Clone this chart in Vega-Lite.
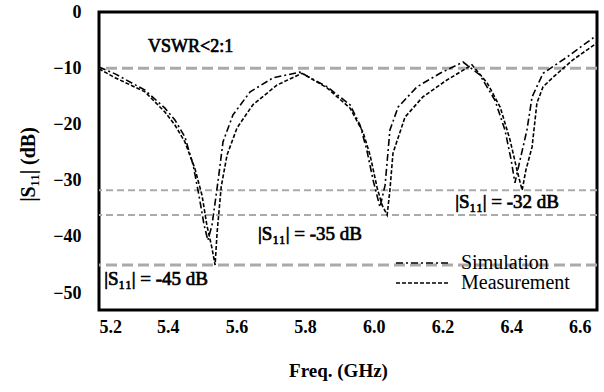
{
  "$schema": "https://vega.github.io/schema/vega-lite/v6.json",
  "width": 498,
  "height": 298,
  "autosize": {"type": "none"},
  "padding": {"left": 99, "top": 12, "right": 7, "bottom": 82},
  "background": "white",
  "config": {
    "font": "Liberation Serif",
    "view": {"stroke": "black", "strokeWidth": 3},
    "axis": {"grid": false, "ticks": false, "domain": false, "labelFont": "Liberation Serif", "labelFontWeight": "bold", "labelColor": "black", "titleFont": "Liberation Serif", "titleFontWeight": "bold", "titleColor": "black"}
  },
  "datasets": {
    "curves": [
      {"series": "Measurement", "f": 5.200, "db": -10.1},
      {"series": "Measurement", "f": 5.247, "db": -11.7},
      {"series": "Measurement", "f": 5.334, "db": -14.2},
      {"series": "Measurement", "f": 5.392, "db": -17.8},
      {"series": "Measurement", "f": 5.421, "db": -20.1},
      {"series": "Measurement", "f": 5.450, "db": -23.1},
      {"series": "Measurement", "f": 5.479, "db": -27.8},
      {"series": "Measurement", "f": 5.500, "db": -32.6},
      {"series": "Measurement", "f": 5.514, "db": -37.9},
      {"series": "Measurement", "f": 5.529, "db": -42.0},
      {"series": "Measurement", "f": 5.538, "db": -45.0},
      {"series": "Measurement", "f": 5.544, "db": -39.1},
      {"series": "Measurement", "f": 5.556, "db": -31.0},
      {"series": "Measurement", "f": 5.573, "db": -25.4},
      {"series": "Measurement", "f": 5.602, "db": -20.6},
      {"series": "Measurement", "f": 5.648, "db": -16.5},
      {"series": "Measurement", "f": 5.718, "db": -13.0},
      {"series": "Measurement", "f": 5.791, "db": -10.9},
      {"series": "Measurement", "f": 5.864, "db": -13.5},
      {"series": "Measurement", "f": 5.931, "db": -17.1},
      {"series": "Measurement", "f": 5.969, "db": -21.4},
      {"series": "Measurement", "f": 5.989, "db": -25.4},
      {"series": "Measurement", "f": 6.010, "db": -31.3},
      {"series": "Measurement", "f": 6.024, "db": -34.3},
      {"series": "Measurement", "f": 6.039, "db": -36.1},
      {"series": "Measurement", "f": 6.047, "db": -31.7},
      {"series": "Measurement", "f": 6.056, "db": -25.1},
      {"series": "Measurement", "f": 6.091, "db": -18.7},
      {"series": "Measurement", "f": 6.143, "db": -15.1},
      {"series": "Measurement", "f": 6.213, "db": -12.1},
      {"series": "Measurement", "f": 6.286, "db": -9.4},
      {"series": "Measurement", "f": 6.330, "db": -12.6},
      {"series": "Measurement", "f": 6.368, "db": -16.9},
      {"series": "Measurement", "f": 6.397, "db": -22.8},
      {"series": "Measurement", "f": 6.417, "db": -28.1},
      {"series": "Measurement", "f": 6.432, "db": -31.7},
      {"series": "Measurement", "f": 6.443, "db": -28.1},
      {"series": "Measurement", "f": 6.461, "db": -24.0},
      {"series": "Measurement", "f": 6.475, "db": -16.2},
      {"series": "Measurement", "f": 6.493, "db": -13.3},
      {"series": "Measurement", "f": 6.522, "db": -11.6},
      {"series": "Measurement", "f": 6.580, "db": -8.5},
      {"series": "Measurement", "f": 6.650, "db": -5.5},
      {"series": "Simulation", "f": 5.200, "db": -9.8},
      {"series": "Simulation", "f": 5.247, "db": -11.0},
      {"series": "Simulation", "f": 5.334, "db": -13.9},
      {"series": "Simulation", "f": 5.392, "db": -17.1},
      {"series": "Simulation", "f": 5.421, "db": -19.2},
      {"series": "Simulation", "f": 5.450, "db": -22.2},
      {"series": "Simulation", "f": 5.474, "db": -27.2},
      {"series": "Simulation", "f": 5.491, "db": -32.6},
      {"series": "Simulation", "f": 5.506, "db": -37.9},
      {"series": "Simulation", "f": 5.517, "db": -40.6},
      {"series": "Simulation", "f": 5.529, "db": -37.9},
      {"series": "Simulation", "f": 5.547, "db": -29.9},
      {"series": "Simulation", "f": 5.561, "db": -23.1},
      {"series": "Simulation", "f": 5.590, "db": -18.3},
      {"series": "Simulation", "f": 5.640, "db": -14.2},
      {"series": "Simulation", "f": 5.707, "db": -11.7},
      {"series": "Simulation", "f": 5.785, "db": -10.7},
      {"series": "Simulation", "f": 5.864, "db": -13.3},
      {"series": "Simulation", "f": 5.931, "db": -16.5},
      {"series": "Simulation", "f": 5.960, "db": -20.1},
      {"series": "Simulation", "f": 5.980, "db": -24.6},
      {"series": "Simulation", "f": 5.998, "db": -29.9},
      {"series": "Simulation", "f": 6.018, "db": -34.7},
      {"series": "Simulation", "f": 6.033, "db": -30.8},
      {"series": "Simulation", "f": 6.047, "db": -21.0},
      {"series": "Simulation", "f": 6.071, "db": -16.9},
      {"series": "Simulation", "f": 6.126, "db": -13.3},
      {"series": "Simulation", "f": 6.193, "db": -10.9},
      {"series": "Simulation", "f": 6.260, "db": -8.9},
      {"series": "Simulation", "f": 6.309, "db": -11.2},
      {"series": "Simulation", "f": 6.353, "db": -15.7},
      {"series": "Simulation", "f": 6.382, "db": -21.0},
      {"series": "Simulation", "f": 6.400, "db": -26.3},
      {"series": "Simulation", "f": 6.411, "db": -30.4},
      {"series": "Simulation", "f": 6.426, "db": -26.3},
      {"series": "Simulation", "f": 6.446, "db": -21.0},
      {"series": "Simulation", "f": 6.461, "db": -15.1},
      {"series": "Simulation", "f": 6.493, "db": -10.9},
      {"series": "Simulation", "f": 6.563, "db": -8.0},
      {"series": "Simulation", "f": 6.650, "db": -4.1}
    ]
  },
  "layer": [
    {
      "data": {"values": [{"db": -10}, {"db": -45}]},
      "mark": {"type": "rule", "color": "#aaaaaa", "strokeWidth": 3, "strokeDash": [11, 5]},
      "encoding": {"y": {"field": "db", "type": "quantitative", "scale": {"domain": [-53, 0]}}}
    },
    {
      "data": {"values": [{"db": -31.7}, {"db": -36.1}]},
      "mark": {"type": "rule", "color": "#aaaaaa", "strokeWidth": 2, "strokeDash": [7, 4]},
      "encoding": {"y": {"field": "db", "type": "quantitative"}}
    },
    {
      "data": {"name": "curves"},
      "mark": {"type": "line", "color": "black", "strokeWidth": 1.6, "clip": true},
      "encoding": {
        "x": {"field": "f", "type": "quantitative", "scale": {"domain": [5.2, 6.65], "nice": false, "zero": false},
          "axis": {"values": [5.2, 5.4, 5.6, 5.8, 6.0, 6.2, 6.4, 6.6], "format": ".1f", "labelFontSize": 18, "labelPadding": 8, "labelBaseline": "top", "title": "Freq. (GHz)", "titleFontSize": 19, "titleX": 239, "titleY": 60, "titleBaseline": "middle", "titleAlign": "center"}},
        "y": {"field": "db", "type": "quantitative", "scale": {"domain": [-53, 0], "nice": false},
          "axis": {"values": [0, -10, -20, -30, -40, -50], "labelFontSize": 18, "labelPadding": 18, "title": "|S₁₁| (dB)", "titleFontSize": 20, "titleX": -71, "titleY": 152, "titleAngle": -90, "titleAlign": "center", "titleBaseline": "middle"}},
        "strokeDash": {"field": "series", "type": "nominal",
          "scale": {"domain": ["Simulation", "Measurement"], "range": [[7, 3, 2, 3], [4, 2]]},
          "legend": {"title": null, "orient": "none", "legendX": 296, "legendY": 241, "symbolType": "M-1,0H5", "symbolSize": 324, "symbolStrokeWidth": 1.6, "symbolStrokeColor": "black", "symbolFillColor": "transparent", "labelFont": "Liberation Serif", "labelFontSize": 20, "labelColor": "black", "labelOffset": 46, "rowPadding": -3}}
      }
    },
    {
      "data": {"values": [{"f": 5.343, "db": -6.2, "label": "VSWR<2:1"}]},
      "mark": {"type": "text", "align": "left", "baseline": "middle", "fontSize": 18, "fontWeight": "normal", "stroke": "black", "strokeWidth": 0.7, "font": "Liberation Serif", "color": "black"},
      "encoding": {"x": {"field": "f", "type": "quantitative"}, "y": {"field": "db", "type": "quantitative"}, "text": {"field": "label"}}
    },
    {
      "data": {"values": [
        {"f": 5.215, "db": -47.5, "label": "|S₁₁| = -45 dB"},
        {"f": 5.663, "db": -39.5, "label": "|S₁₁| = -35 dB"},
        {"f": 6.237, "db": -33.8, "label": "|S₁₁| = -32 dB"}
      ]},
      "mark": {"type": "text", "align": "left", "baseline": "middle", "fontSize": 19, "fontWeight": "normal", "stroke": "black", "strokeWidth": 0.7, "font": "Liberation Serif", "color": "black"},
      "encoding": {"x": {"field": "f", "type": "quantitative"}, "y": {"field": "db", "type": "quantitative"}, "text": {"field": "label"}}
    }
  ]
}
